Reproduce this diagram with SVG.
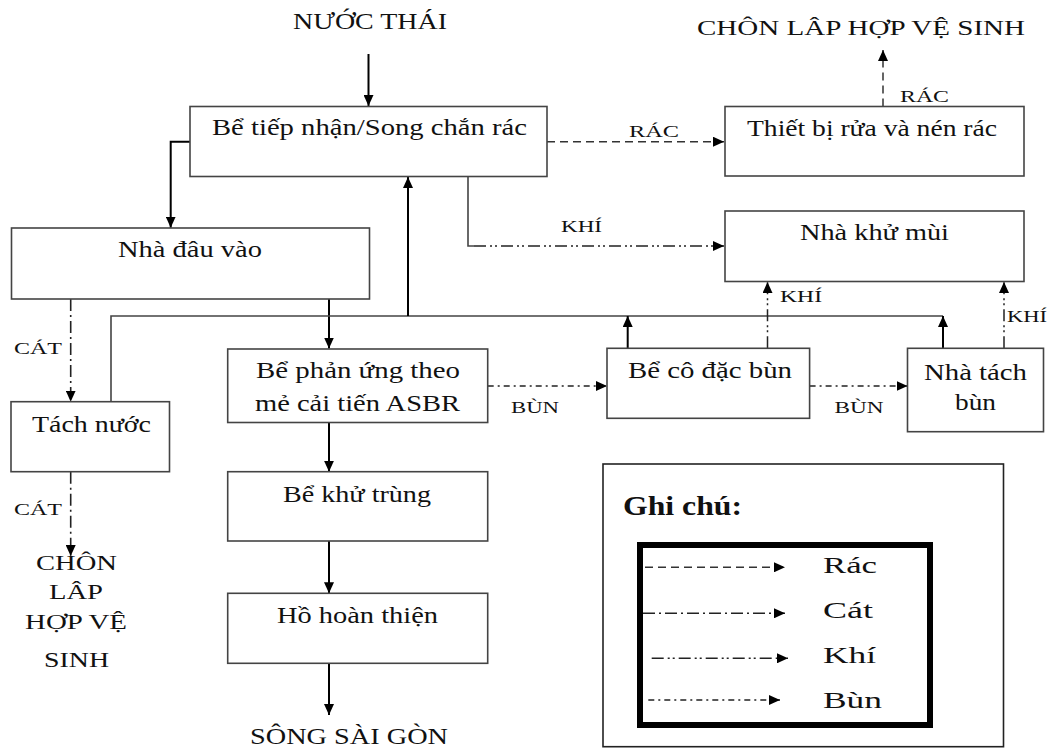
<svg xmlns="http://www.w3.org/2000/svg" width="1052" height="749" viewBox="0 0 1052 749">
<style>
.box{fill:#fff;stroke:#444;stroke-width:1.6}
.t{font-family:"Liberation Serif","Times New Roman",serif;font-size:23px;fill:#111}
.s{font-size:16px}
.solid{stroke:#000;stroke-width:2;fill:none}
.thin{stroke:#444;stroke-width:1.6;fill:none}
.rac{stroke:#333;stroke-width:1.5;fill:none;stroke-dasharray:8 5}
.cat{stroke:#222;stroke-width:1.6;fill:none;stroke-dasharray:12 4 2 4}
.khi{stroke:#222;stroke-width:1.5;fill:none;stroke-dasharray:12 4 2 3 2 4}
.bun{stroke:#222;stroke-width:1.5;fill:none;stroke-dasharray:6 4 2 4}
</style>
<defs>
<marker id="ah" markerWidth="12" markerHeight="10" refX="11" refY="5" orient="auto" markerUnits="userSpaceOnUse"><path d="M0,0 L11,5 L0,10 z" fill="#000"/></marker>
</defs>
<rect width="1052" height="749" fill="#fff"/>

<g id="connectors">
<path class="solid" d="M368.5,54 V106" marker-end="url(#ah)"/>
<path class="solid" d="M190,141.7 H170.7 V227.7" marker-end="url(#ah)"/>
<path class="rac" d="M547,141.7 H724" marker-end="url(#ah)"/>
<path class="rac" d="M883,106.5 V50" marker-end="url(#ah)"/>
<path class="thin" d="M468,176.5 V246 H474"/>
<path class="khi" d="M474,246 H724" marker-end="url(#ah)"/>
<path class="solid" d="M329,299 V348.5" marker-end="url(#ah)"/>
<path class="cat" d="M70.7,299 V401.7" marker-end="url(#ah)"/>
<path class="thin" d="M111,401.7 V316 H943"/>
<path class="solid" d="M408,316 V177" marker-end="url(#ah)"/>
<path class="solid" d="M627.7,348.3 V316" marker-end="url(#ah)"/>
<path class="solid" d="M943,348.3 V316" marker-end="url(#ah)"/>
<path class="khi" d="M767.5,348.3 V282" marker-end="url(#ah)"/>
<path class="khi" d="M1004,348.3 V282" marker-end="url(#ah)"/>
<path class="bun" d="M487.7,386 H607" marker-end="url(#ah)"/>
<path class="bun" d="M809.6,386 H907.5" marker-end="url(#ah)"/>
<path class="cat" d="M70.7,471.7 V556" marker-end="url(#ah)"/>
<path class="solid" d="M329,422.5 V471.7" marker-end="url(#ah)"/>
<path class="solid" d="M329,541 V593.3" marker-end="url(#ah)"/>
<path class="solid" d="M329,663.3 V715" marker-end="url(#ah)"/>
<text class="t s" x="629" y="136.7" textLength="50" lengthAdjust="spacingAndGlyphs">RÁC</text>
<text class="t s" x="900" y="101.7" textLength="49" lengthAdjust="spacingAndGlyphs">RÁC</text>
<text class="t s" x="561" y="231.7" textLength="41" lengthAdjust="spacingAndGlyphs">KHÍ</text>
<text class="t s" x="780" y="301.7" textLength="42" lengthAdjust="spacingAndGlyphs">KHÍ</text>
<text class="t s" x="1007" y="322" textLength="40" lengthAdjust="spacingAndGlyphs">KHÍ</text>
<text class="t s" x="14" y="354" textLength="48" lengthAdjust="spacingAndGlyphs">CÁT</text>
<text class="t s" x="14" y="515" textLength="48" lengthAdjust="spacingAndGlyphs">CÁT</text>
<text class="t s" x="511" y="413.3" textLength="48" lengthAdjust="spacingAndGlyphs">BÙN</text>
<text class="t s" x="834.5" y="413.3" textLength="49" lengthAdjust="spacingAndGlyphs">BÙN</text>
</g>

<g id="nuoc-thai"><text class="t" x="293" y="28.5" textLength="154" lengthAdjust="spacingAndGlyphs">NƯỚC THÁI</text></g>
<g id="chon-lap-top"><text class="t" style="font-size:22px" x="697" y="35" textLength="328" lengthAdjust="spacingAndGlyphs">CHÔN LÂP HỢP VỆ SINH</text></g>

<g id="be-tiep-nhan">
<rect class="box" x="190" y="106.5" width="357" height="70"/>
<text class="t" x="212" y="135" textLength="315" lengthAdjust="spacingAndGlyphs">Bể tiếp nhận/Song chắn rác</text>
</g>
<g id="thiet-bi">
<rect class="box" x="725" y="106.5" width="299" height="69.5"/>
<text class="t" x="747" y="136" textLength="250" lengthAdjust="spacingAndGlyphs">Thiết bị rửa và nén rác</text>
</g>
<g id="nha-khu-mui">
<rect class="box" x="725" y="211" width="299" height="70.5"/>
<text class="t" x="800" y="239.5" textLength="149" lengthAdjust="spacingAndGlyphs">Nhà khử mùi</text>
</g>
<g id="nha-dau-vao">
<rect class="box" x="11.5" y="228" width="358" height="71"/>
<text class="t" x="118" y="256.7" textLength="144" lengthAdjust="spacingAndGlyphs">Nhà đâu vào</text>
</g>
<g id="tach-nuoc">
<rect class="box" x="11" y="401.7" width="158.5" height="70"/>
<text class="t" x="32" y="431.7" textLength="119" lengthAdjust="spacingAndGlyphs">Tách nước</text>
</g>
<g id="be-phan-ung">
<rect class="box" x="227.7" y="349" width="260" height="73.5"/>
<text class="t" x="256" y="378.3" textLength="204" lengthAdjust="spacingAndGlyphs">Bể phản ứng theo</text>
<text class="t" x="255" y="411" textLength="205" lengthAdjust="spacingAndGlyphs">mẻ cải tiến ASBR</text>
</g>
<g id="be-co-dac">
<rect class="box" x="607" y="348.3" width="202.6" height="70"/>
<text class="t" x="628" y="378.3" textLength="164" lengthAdjust="spacingAndGlyphs">Bể cô đặc bùn</text>
</g>
<g id="nha-tach-bun">
<rect class="box" x="907.5" y="348.3" width="136" height="83.4"/>
<text class="t" x="924" y="380" textLength="103" lengthAdjust="spacingAndGlyphs">Nhà tách</text>
<text class="t" x="955" y="410" textLength="41" lengthAdjust="spacingAndGlyphs">bùn</text>
</g>
<g id="be-khu-trung">
<rect class="box" x="227.7" y="471.7" width="260" height="69.3"/>
<text class="t" x="283" y="501.7" textLength="148" lengthAdjust="spacingAndGlyphs">Bể khử trùng</text>
</g>
<g id="ho-hoan-thien">
<rect class="box" x="227.7" y="593.3" width="260" height="70"/>
<text class="t" x="277" y="623.3" textLength="161" lengthAdjust="spacingAndGlyphs">Hồ hoàn thiện</text>
</g>
<g id="song-sai-gon"><text class="t" x="250" y="743.5" textLength="198" lengthAdjust="spacingAndGlyphs">SÔNG SÀI GÒN</text></g>
<g id="chon-lap-left">
<text class="t" style="font-size:22px" x="36" y="570" textLength="81" lengthAdjust="spacingAndGlyphs">CHÔN</text>
<text class="t" style="font-size:22px" x="49" y="598.5" textLength="54" lengthAdjust="spacingAndGlyphs">LÂP</text>
<text class="t" style="font-size:22px" x="25" y="629" textLength="102" lengthAdjust="spacingAndGlyphs">HỢP VỆ</text>
<text class="t" style="font-size:22px" x="44" y="667" textLength="65" lengthAdjust="spacingAndGlyphs">SINH</text>
</g>

<g id="legend">
<rect x="603" y="464" width="400.5" height="282.7" fill="#fff" stroke="#222" stroke-width="1.6"/>
<text class="t" style="font-size:28px;font-weight:bold" x="623" y="515" textLength="119" lengthAdjust="spacingAndGlyphs">Ghi chú:</text>
<rect x="640" y="545" width="290" height="180" fill="none" stroke="#000" stroke-width="6"/>
<path class="rac" d="M645,567.3 H785" marker-end="url(#ah)"/>
<path class="cat" d="M643,613.3 H785" marker-end="url(#ah)"/>
<path class="khi" d="M651.7,658.3 H788" marker-end="url(#ah)"/>
<path class="bun" d="M648.3,700 H780" marker-end="url(#ah)"/>
<text class="t" x="823" y="573.3" textLength="54" lengthAdjust="spacingAndGlyphs">Rác</text>
<text class="t" x="823" y="618.3" textLength="50" lengthAdjust="spacingAndGlyphs">Cát</text>
<text class="t" x="823" y="663.3" textLength="53" lengthAdjust="spacingAndGlyphs">Khí</text>
<text class="t" x="823" y="708.3" textLength="59" lengthAdjust="spacingAndGlyphs">Bùn</text>
</g>
</svg>
